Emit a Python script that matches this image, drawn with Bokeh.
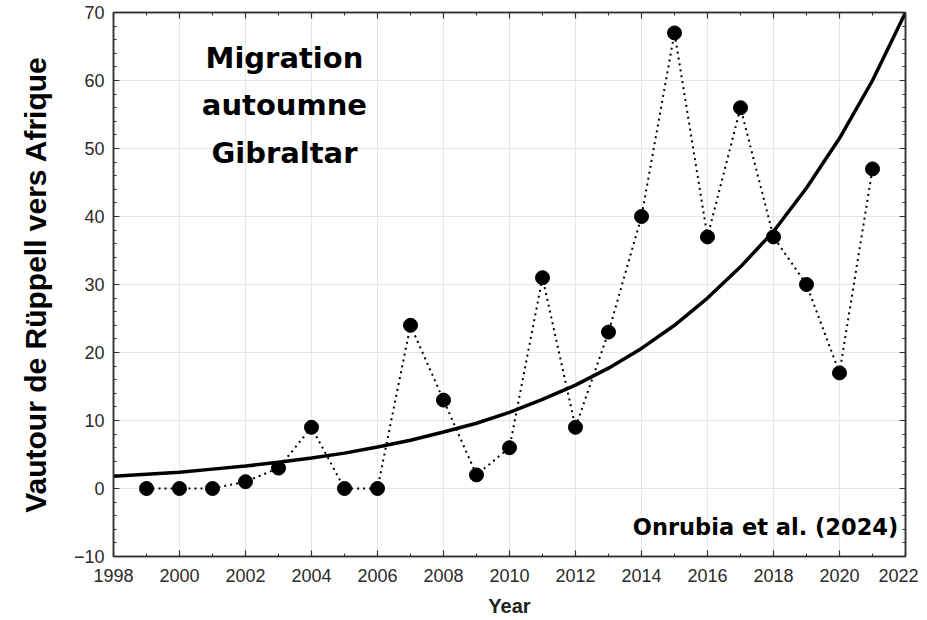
from bokeh.plotting import figure
from bokeh.models import Range1d, LinearAxis, FixedTicker, Label
from bokeh.embed import file_html
from bokeh.resources import INLINE

# ---- data ----
years = [1999, 2000, 2001, 2002, 2003, 2004, 2005, 2006, 2007, 2008, 2009, 2010,
         2011, 2012, 2013, 2014, 2015, 2016, 2017, 2018, 2019, 2020, 2021]
counts = [0, 0, 0, 1, 3, 9, 0, 0, 24, 13, 2, 6,
          31, 9, 23, 40, 67, 37, 56, 37, 30, 17, 47]

# exponential trend curve, values at each year
trend_years = [1998, 1999, 2000, 2001, 2002, 2003, 2004, 2005, 2006, 2007, 2008, 2009,
               2010, 2011, 2012, 2013, 2014, 2015, 2016, 2017, 2018, 2019, 2020, 2021, 2022]
trend_vals = [1.8, 2.1, 2.4, 2.85, 3.3, 3.85, 4.5, 5.2, 6.1, 7.1, 8.3, 9.6,
              11.2, 13.1, 15.2, 17.7, 20.6, 24.0, 28.0, 32.6, 37.8, 44.2, 51.5, 60.0, 70.0]

x_ticks = [1998, 2000, 2002, 2004, 2006, 2008, 2010, 2012, 2014, 2016, 2018, 2020, 2022]
y_ticks = [-10, 0, 10, 20, 30, 40, 50, 60, 70]

title_lines = ["Migration", "autoumne", "Gibraltar"]
source_text = "Onrubia et al. (2024)"
x_label = "Year"
y_label = "Vautour de Rüppell vers Afrique"

p = figure(width=918, height=620,
           x_range=Range1d(1998, 2022), y_range=Range1d(-10, 70),
           output_backend="svg", toolbar_location=None,
           min_border_left=113, min_border_right=13, min_border_top=12, min_border_bottom=64)

p.outline_line_color = "#333333"
p.outline_line_width = 1.5
p.background_fill_color = "white"
p.border_fill_color = "white"

x_minor = [float(v) for v in range(1998, 2023)]
y_minor = [float(v) for v in range(-10, 71, 2)]


def style_axis(ax, ticks, minor, labels=True):
    ax.ticker = FixedTicker(ticks=ticks, minor_ticks=minor)
    ax.axis_line_color = "#333333"
    ax.axis_line_width = 1.5
    ax.major_tick_in = 6
    ax.major_tick_out = 0
    ax.minor_tick_in = 3
    ax.minor_tick_out = 0
    ax.major_tick_line_color = "#333333"
    ax.minor_tick_line_color = "#333333"
    ax.major_tick_line_width = 1.2
    ax.minor_tick_line_width = 1.0
    ax.major_label_text_font = "Liberation Sans"
    ax.major_label_text_font_size = "18px"
    ax.major_label_text_color = "#2a2a2a"
    if not labels:
        ax.major_label_overrides = {t: "" for t in ticks}
        ax.major_label_standoff = 0


xa = p.xaxis[0]
ya = p.yaxis[0]
style_axis(xa, x_ticks, x_minor)
style_axis(ya, y_ticks, y_minor)
xa.major_label_standoff = 12
ya.major_label_standoff = 9

xa.axis_label = x_label
xa.axis_label_text_font = "Liberation Sans"
xa.axis_label_text_font_style = "bold"
xa.axis_label_text_font_size = "20px"
xa.axis_label_text_color = "#222222"
xa.axis_label_standoff = 10

ya.axis_label = y_label
ya.axis_label_text_font = "Liberation Sans"
ya.axis_label_text_font_style = "bold"
ya.axis_label_text_font_size = "30px"
ya.axis_label_text_color = "black"
ya.axis_label_standoff = 19

top_ax = LinearAxis()
style_axis(top_ax, x_ticks, x_minor, labels=False)
p.add_layout(top_ax, "above")
right_ax = LinearAxis()
style_axis(right_ax, y_ticks, y_minor, labels=False)
p.add_layout(right_ax, "right")

p.xgrid.ticker = FixedTicker(ticks=x_ticks)
p.ygrid.ticker = FixedTicker(ticks=y_ticks)
p.grid.grid_line_color = "#e6e6e6"
p.grid.grid_line_width = 1

# trend curve
p.line(trend_years, trend_vals, line_color="black", line_width=3.5)
# dotted series
p.line(years, counts, line_color="black", line_width=2, line_dash="2 4")
p.scatter(years, counts, size=14, fill_color="black", line_color="black")

title_y = [63.3, 56.4, 49.4]
for txt, yy in zip(title_lines, title_y):
    p.add_layout(Label(x=2003.18, y=yy, text=txt, text_align="center", text_baseline="middle",
                       text_font="DejaVu Sans", text_font_style="bold", text_font_size="29px",
                       text_color="black"))

p.add_layout(Label(x=2021.78, y=-5.7, text=source_text, text_align="right", text_baseline="middle",
                   text_font="DejaVu Sans", text_font_style="bold", text_font_size="22.5px",
                   text_color="black"))

open("out.html", "w").write(file_html(p, INLINE))
